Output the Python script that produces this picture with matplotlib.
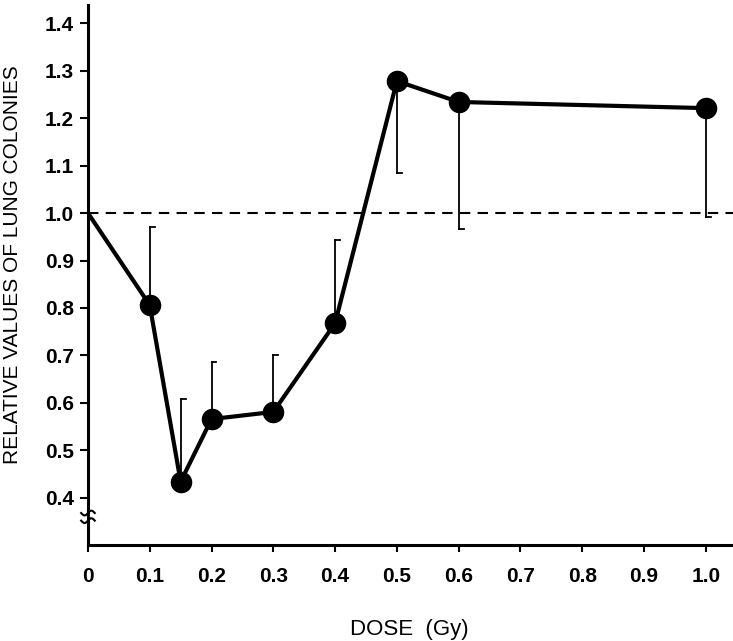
import numpy as np
import matplotlib
matplotlib.use("Agg")
import matplotlib.pyplot as plt

tickfont = 'Liberation Sans'

dose = [0.1, 0.15, 0.2, 0.3, 0.4, 0.5, 0.6, 1.0]
rel = [0.806, 0.434, 0.566, 0.581, 0.768, 1.278, 1.234, 1.221]
err_end = [0.971, 0.608, 0.686, 0.700, 0.943, 1.084, 0.966, 0.992]
x_ticks = [0, 0.1, 0.2, 0.3, 0.4, 0.5, 0.6, 0.7, 0.8, 0.9, 1.0]
x_ticklabels = ['0', '0.1', '0.2', '0.3', '0.4', '0.5', '0.6', '0.7', '0.8', '0.9', '1.0']
y_ticks = [0.4, 0.5, 0.6, 0.7, 0.8, 0.9, 1.0, 1.1, 1.2, 1.3, 1.4]
y_ticklabels = ['0.4', '0.5', '0.6', '0.7', '0.8', '0.9', '1.0', '1.1', '1.2', '1.3', '1.4']
origin = (0.0, 1.0)

fig = plt.figure(figsize=(7.33, 6.41), dpi=100)
ax = fig.add_axes([0.120, 0.150, 0.880, 0.842])
ax.set_xlim(0, 1.044)
ax.set_ylim(0.301, 1.438)

# dashed reference line
ax.axhline(1.0, color='black', lw=1.5, ls=(0, (5, 3.5)), zorder=1)

# one-sided error bars with small right-pointing caps
capw = 0.008
for x, y, e in zip(dose, rel, err_end):
    ax.plot([x, x], [y, e], color='black', lw=1.3, zorder=2)
    ax.plot([x, x + capw], [e, e], color='black', lw=1.3, zorder=2)

# main line
ax.plot([origin[0]] + dose, [origin[1]] + rel, color='black', lw=3, zorder=3)
ax.plot(dose, rel, 'o', color='black', ms=14.5, zorder=4)

for s in ['top', 'right']:
    ax.spines[s].set_visible(False)
for s in ['left', 'bottom']:
    ax.spines[s].set_linewidth(2.2)

ax.set_xticks(x_ticks)
ax.set_xticklabels(x_ticklabels, fontfamily=tickfont, fontsize=15, fontweight='bold')
ax.set_yticks(y_ticks)
ax.set_yticklabels(y_ticklabels, fontfamily=tickfont, fontsize=15, fontweight='bold')
ax.tick_params(axis='x', direction='out', length=5, width=1.5, pad=11)
ax.tick_params(axis='y', direction='out', length=6, width=1.5, pad=4)

ax.set_ylabel('RELATIVE VALUES OF LUNG COLONIES', fontsize=15, fontfamily='Liberation Sans')
ax.yaxis.set_label_coords(-0.103, 0.52)
ax.set_xlabel('DOSE  (Gy)', fontsize=16, fontfamily='Liberation Sans')
ax.xaxis.set_label_coords(0.498, -0.138)

# axis break marks
t = np.linspace(-1, 1, 30)
for yb in [0.352, 0.368]:
    ax.plot(0.011 * t, yb + 0.005 * np.sin(np.pi * t), color='black', lw=1.5,
            transform=ax.transData, clip_on=False, zorder=5)

fig.savefig('out.png', dpi=100)
